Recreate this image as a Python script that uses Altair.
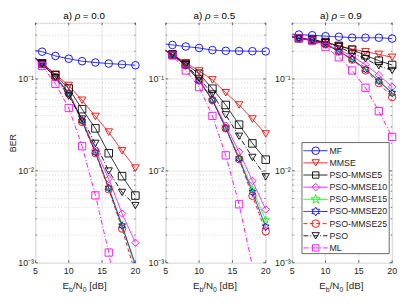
import altair as alt
import pandas as pd
import math

# ---------------- data ----------------
snr_db = [4, 6, 8, 10, 12, 14, 16, 18, 20]
series_names = ["MF", "MMSE", "PSO-MMSE5", "PSO-MMSE10", "PSO-MMSE15",
                "PSO-MMSE20", "PSO-MMSE25", "PSO", "ML"]
rho_values = ["0.0", "0.5", "0.9"]

ber_rho00 = {
    "MF":         [0.21, 0.198, 0.178, 0.166, 0.156, 0.151, 0.147, 0.144, 0.141],
    "MMSE":       [0.19, 0.150, 0.1125, 0.0849, 0.0586, 0.0391, 0.0264, 0.0165, 0.0107],
    "PSO-MMSE5":  [0.19, 0.1476, 0.110, 0.0787, 0.0469, 0.0290, 0.01556, 0.00875, 0.00538],
    "PSO-MMSE10": [0.19, 0.1466, 0.1055, 0.0708, 0.0358, 0.0169, 0.00815, 0.00342, 0.00165],
    "PSO-MMSE15": [0.19, 0.1466, 0.1050, 0.0700, 0.0350, 0.0161, 0.00659, 0.00258, 0.00089],
    "PSO-MMSE20": [0.19, 0.1466, 0.1050, 0.0700, 0.0350, 0.0159, 0.00650, 0.00252, 0.00096],
    "PSO-MMSE25": [0.19, 0.1466, 0.1043, 0.0692, 0.0340, 0.01556, 0.00629, 0.00235, 0.00076],
    "PSO":        [0.19, 0.1466, 0.1031, 0.0649, 0.0366, 0.0199, 0.00996, 0.00582, 0.00419],
    "ML":         [0.20, 0.1385, 0.0885, 0.0483, 0.01853, 0.0054, 0.00129, 0.00019, 0.000015],
}
ber_rho05 = {
    "MF":         [0.245, 0.2344, 0.2255, 0.2173, 0.2061, 0.2023, 0.2014, 0.2005, 0.1993],
    "MMSE":       [0.225, 0.185, 0.150, 0.122, 0.0977, 0.0708, 0.0521, 0.0366, 0.0252],
    "PSO-MMSE5":  [0.225, 0.185, 0.145, 0.114, 0.0783, 0.0521, 0.0318, 0.0199, 0.01324],
    "PSO-MMSE10": [0.225, 0.182, 0.140, 0.0962, 0.0600, 0.0311, 0.0161, 0.00778, 0.00379],
    "PSO-MMSE15": [0.225, 0.182, 0.140, 0.0962, 0.0590, 0.0296, 0.0140, 0.00629, 0.00292],
    "PSO-MMSE20": [0.225, 0.182, 0.140, 0.0962, 0.0588, 0.0292, 0.01354, 0.00586, 0.00246],
    "PSO-MMSE25": [0.225, 0.182, 0.1416, 0.0961, 0.0586, 0.0290, 0.01336, 0.00535, 0.00219],
    "PSO":        [0.225, 0.1855, 0.1432, 0.1014, 0.0687, 0.0407, 0.0238, 0.0140, 0.00861],
    "ML":         [0.225, 0.180, 0.1236, 0.0815, 0.0396, 0.01475, 0.00432, 0.00092, 0.00015],
}
ber_rho09 = {
    "MF":         [0.31, 0.304, 0.299, 0.292, 0.288, 0.281, 0.281, 0.281, 0.275],
    "MMSE":       [0.30, 0.275, 0.264, 0.249, 0.229, 0.211, 0.198, 0.185, 0.172],
    "PSO-MMSE5":  [0.30, 0.277, 0.267, 0.252, 0.229, 0.208, 0.181, 0.158, 0.142],
    "PSO-MMSE10": [0.30, 0.277, 0.265, 0.240, 0.208, 0.1768, 0.143, 0.110, 0.082],
    "PSO-MMSE15": [0.30, 0.277, 0.264, 0.238, 0.200, 0.165, 0.128, 0.096, 0.0708],
    "PSO-MMSE20": [0.30, 0.277, 0.264, 0.238, 0.200, 0.164, 0.127, 0.095, 0.070],
    "PSO-MMSE25": [0.30, 0.277, 0.263, 0.238, 0.198, 0.162, 0.1236, 0.0902, 0.0634],
    "PSO":        [0.30, 0.277, 0.267, 0.249, 0.224, 0.190, 0.166, 0.139, 0.1236],
    "ML":         [0.30, 0.277, 0.260, 0.2225, 0.172, 0.1236, 0.0802, 0.0446, 0.0234],
}
panels_data = [ber_rho00, ber_rho05, ber_rho09]

y_ticks = [0.001, 0.01, 0.1]
x_ticks = [5, 10, 15, 20]

# ---------------- styles ----------------
def star_path(n, r_in):
    pts = []
    for k in range(2 * n):
        a = -math.pi / 2 + k * math.pi / n
        r = 1.0 if k % 2 == 0 else r_in
        pts.append(f"{r * math.cos(a):.3f},{r * math.sin(a):.3f}")
    return "M" + "L".join(pts) + "Z"

PENTAGRAM = star_path(5, 0.40)
HEXAGRAM = star_path(6, 0.577)

series_colors = ["#0000ff", "#ff0000", "#000000", "#ff00ff", "#00ff00",
                 "#0000ff", "#ff0000", "#000000", "#ff00ff"]
series_shapes = ["circle", "triangle-down", "square", "diamond", PENTAGRAM,
                 HEXAGRAM, "circle", "triangle-down", "square"]
series_sizes = [60, 55, 42, 60, 95, 80, 60, 55, 42]
SOLID, DASH, DASHDOT = [1, 0], [4, 2.5], [5, 2, 1, 2]
series_dashes = [SOLID, SOLID, SOLID, SOLID, SOLID, SOLID, DASH, DASHDOT, DASHDOT]

FONT = "Liberation Sans"
TXT = "#262626"
W, H = 102, 245
Y_DOMAIN = [0.001, 0.41]
GRID_COLOR = "#dcdcdc"
MINOR_COLOR = "#bdbdbd"
AX_COLOR = "#404040"

minor_vals = [m * 10.0 ** e for e in (-3, -2) for m in range(2, 10)] + [0.2, 0.3, 0.4]

xscale = alt.Scale(domain=[5, 20], nice=False, zero=False)
yscale = alt.Scale(type="log", domain=Y_DOMAIN, nice=False)
color_scale = alt.Scale(domain=series_names, range=series_colors)
shape_scale = alt.Scale(domain=series_names, range=series_shapes)
size_scale = alt.Scale(domain=series_names, range=series_sizes)
dash_scale = alt.Scale(domain=series_names, range=series_dashes)

one_row = pd.DataFrame({"k": [0]})


def const_text(txt, x, y, size, align="left", baseline="alphabetic",
               color=TXT, style="normal"):
    return alt.Chart(one_row).mark_text(
        align=align, baseline=baseline, fontSize=size, font=FONT, color=color,
        fontStyle=style
    ).encode(x=alt.value(x), y=alt.value(y), text=alt.value(txt))


def panel(idx, with_ytitle, with_legend, y_extent):
    vals = panels_data[idx]
    rows = []
    for s in series_names:
        for xv, bv in zip(snr_db, vals[s]):
            rows.append({"snr": xv, "ber": bv, "series": s})
    df = pd.DataFrame(rows)

    yaxis = alt.Axis(values=y_ticks, grid=True, gridColor=GRID_COLOR, gridWidth=0.8,
                     ticks=False, domain=False, labelOverlap=False,
                     labelExpr="datum.value < 0.005 ? '10⁻³' : (datum.value < 0.05 ? '10⁻²' : '10⁻¹')",
                     labelFontSize=9, labelFont=FONT, labelColor=TXT, labelPadding=2,
                     title="BER" if with_ytitle else None, titleFontSize=9,
                     titleFont=FONT, titleFontWeight="normal", titleColor=TXT,
                     titlePadding=1, minExtent=y_extent, maxExtent=y_extent)

    minor = alt.Chart(pd.DataFrame({"v": minor_vals})).mark_rule(
        color=MINOR_COLOR, strokeWidth=0.6, strokeDash=[1, 2]
    ).encode(y=alt.Y("v:Q", scale=yscale, axis=yaxis))

    xt_df = pd.DataFrame({"v": x_ticks})
    xgrid = alt.Chart(xt_df).mark_rule(color=GRID_COLOR, strokeWidth=0.8).encode(
        x=alt.X("v:Q", scale=xscale, axis=None))
    xlabels = alt.Chart(xt_df).mark_text(
        baseline="top", align="center", fontSize=9, font=FONT, color=TXT
    ).encode(x=alt.X("v:Q", scale=xscale), y=alt.value(H + 4.5),
             text=alt.Text("v:Q", format="d"))

    # small inward ticks (MATLAB style)
    xtick_b = alt.Chart(xt_df).mark_rule(color=AX_COLOR, strokeWidth=0.8).encode(
        x=alt.X("v:Q", scale=xscale), y=alt.value(H), y2=alt.value(H - 2.5))
    xtick_t = alt.Chart(xt_df).mark_rule(color=AX_COLOR, strokeWidth=0.8).encode(
        x=alt.X("v:Q", scale=xscale), y=alt.value(0), y2=alt.value(2.5))
    ymaj_df = pd.DataFrame({"v": y_ticks})
    ytick_l = alt.Chart(ymaj_df).mark_rule(color=AX_COLOR, strokeWidth=0.8).encode(
        y=alt.Y("v:Q", scale=yscale), x=alt.value(0), x2=alt.value(2.5))
    ytick_r = alt.Chart(ymaj_df).mark_rule(color=AX_COLOR, strokeWidth=0.8).encode(
        y=alt.Y("v:Q", scale=yscale), x=alt.value(W), x2=alt.value(W - 2.5))
    ymin_df = pd.DataFrame({"v": minor_vals})
    ymtick_l = alt.Chart(ymin_df).mark_rule(color=AX_COLOR, strokeWidth=0.6).encode(
        y=alt.Y("v:Q", scale=yscale), x=alt.value(0), x2=alt.value(1.5))
    ymtick_r = alt.Chart(ymin_df).mark_rule(color=AX_COLOR, strokeWidth=0.6).encode(
        y=alt.Y("v:Q", scale=yscale), x=alt.value(W), x2=alt.value(W - 1.5))

    base = alt.Chart(df)
    lines = base.mark_line(clip=True, strokeWidth=0.9).encode(
        x=alt.X("snr:Q", scale=xscale),
        y=alt.Y("ber:Q", scale=yscale),
        color=alt.Color("series:N", scale=color_scale, legend=None),
        strokeDash=alt.StrokeDash("series:N", scale=dash_scale, legend=None),
    )
    points = base.transform_filter(
        (alt.datum.snr >= 5) & (alt.datum.ber >= 0.001)
    ).mark_point(filled=False, strokeWidth=0.9, opacity=1).encode(
        x=alt.X("snr:Q", scale=xscale),
        y=alt.Y("ber:Q", scale=yscale),
        color=alt.Color("series:N", scale=color_scale, legend=None),
        shape=alt.Shape("series:N", scale=shape_scale, legend=None),
        size=alt.Size("series:N", scale=size_scale, legend=None),
    )

    # x axis title E_b/N_0 [dB] with subscripts
    F, FS = 10, 7
    w_E, w_b, w_N, w_0, w_sp = 0.667 * F, 0.556 * FS, 1.0 * F, 0.556 * FS, 0.278 * F
    w_dB = 1.945 * F
    total = w_E + w_b + w_N + w_0 + w_sp + w_dB
    x0 = W / 2 - total / 2
    yb = H + 27
    xt = [
        const_text("E", x0, yb, F),
        const_text("b", x0 + w_E, yb + 2.5, FS),
        const_text("/N", x0 + w_E + w_b, yb, F),
        const_text("0", x0 + w_E + w_b + w_N, yb + 2.5, FS),
        const_text("[dB]", x0 + w_E + w_b + w_N + w_0 + w_sp, yb, F),
    ]

    # panel title  "a) ρ = 0.x"  with italic rho
    TF = 10
    w_a, w_rho, w_rest = 1.167 * TF, 0.56 * TF, 0.278 * TF + 2.53 * TF
    t0 = W / 2 - (w_a + w_rho + w_rest) / 2
    ty = -3.5
    title_parts = [
        const_text("a)", t0, ty, TF, color="#000000"),
        const_text("ρ", t0 + w_a, ty, TF, color="#000000", style="italic"),
        const_text("= " + rho_values[idx], t0 + w_a + w_rho + 0.278 * TF, ty, TF,
                   color="#000000"),
    ]

    layers = [xgrid, minor, xtick_b, xtick_t, ytick_l, ytick_r, ymtick_l, ymtick_r,
              lines, points, xlabels] + xt + title_parts

    if with_legend:
        lx0, lx1 = 10, 99
        ly1 = H - 9.3
        ly0 = ly1 - 113.3
        box = alt.Chart(one_row).mark_rect(
            fill="white", stroke="#262626", strokeWidth=0.7
        ).encode(x=alt.value(lx0), x2=alt.value(lx1), y=alt.value(ly0), y2=alt.value(ly1))
        layers.append(box)
        for i, s in enumerate(series_names):
            yy = ly0 + 8.3 + i * 12.4
            seg = alt.Chart(one_row).mark_rule(
                color=series_colors[i], strokeWidth=0.9, strokeDash=series_dashes[i]
            ).encode(x=alt.value(lx0 + 1.5), x2=alt.value(lx0 + 26), y=alt.value(yy))
            mk = alt.Chart(one_row).mark_point(
                filled=False, strokeWidth=0.9, opacity=1, color=series_colors[i],
                shape=series_shapes[i], size=series_sizes[i]
            ).encode(x=alt.value(lx0 + 14), y=alt.value(yy))
            tx = const_text(s, lx0 + 28, yy, 9, baseline="middle")
            layers += [seg, mk, tx]

    return alt.layer(*layers).properties(width=W, height=H)


p1 = panel(0, True, False, 17)
p2 = panel(1, False, False, 23.5)
p3 = panel(2, False, True, 19)

chart = alt.concat(p1, p2, p3, columns=3, spacing=0, align="none", bounds="full").properties(
    padding={"left": 0, "top": 0, "right": 0, "bottom": 0}
).configure_view(
    stroke=AX_COLOR, strokeWidth=0.9
).configure(background="white")

chart.save("out.html", embed_options={"renderer": "svg", "actions": False})
